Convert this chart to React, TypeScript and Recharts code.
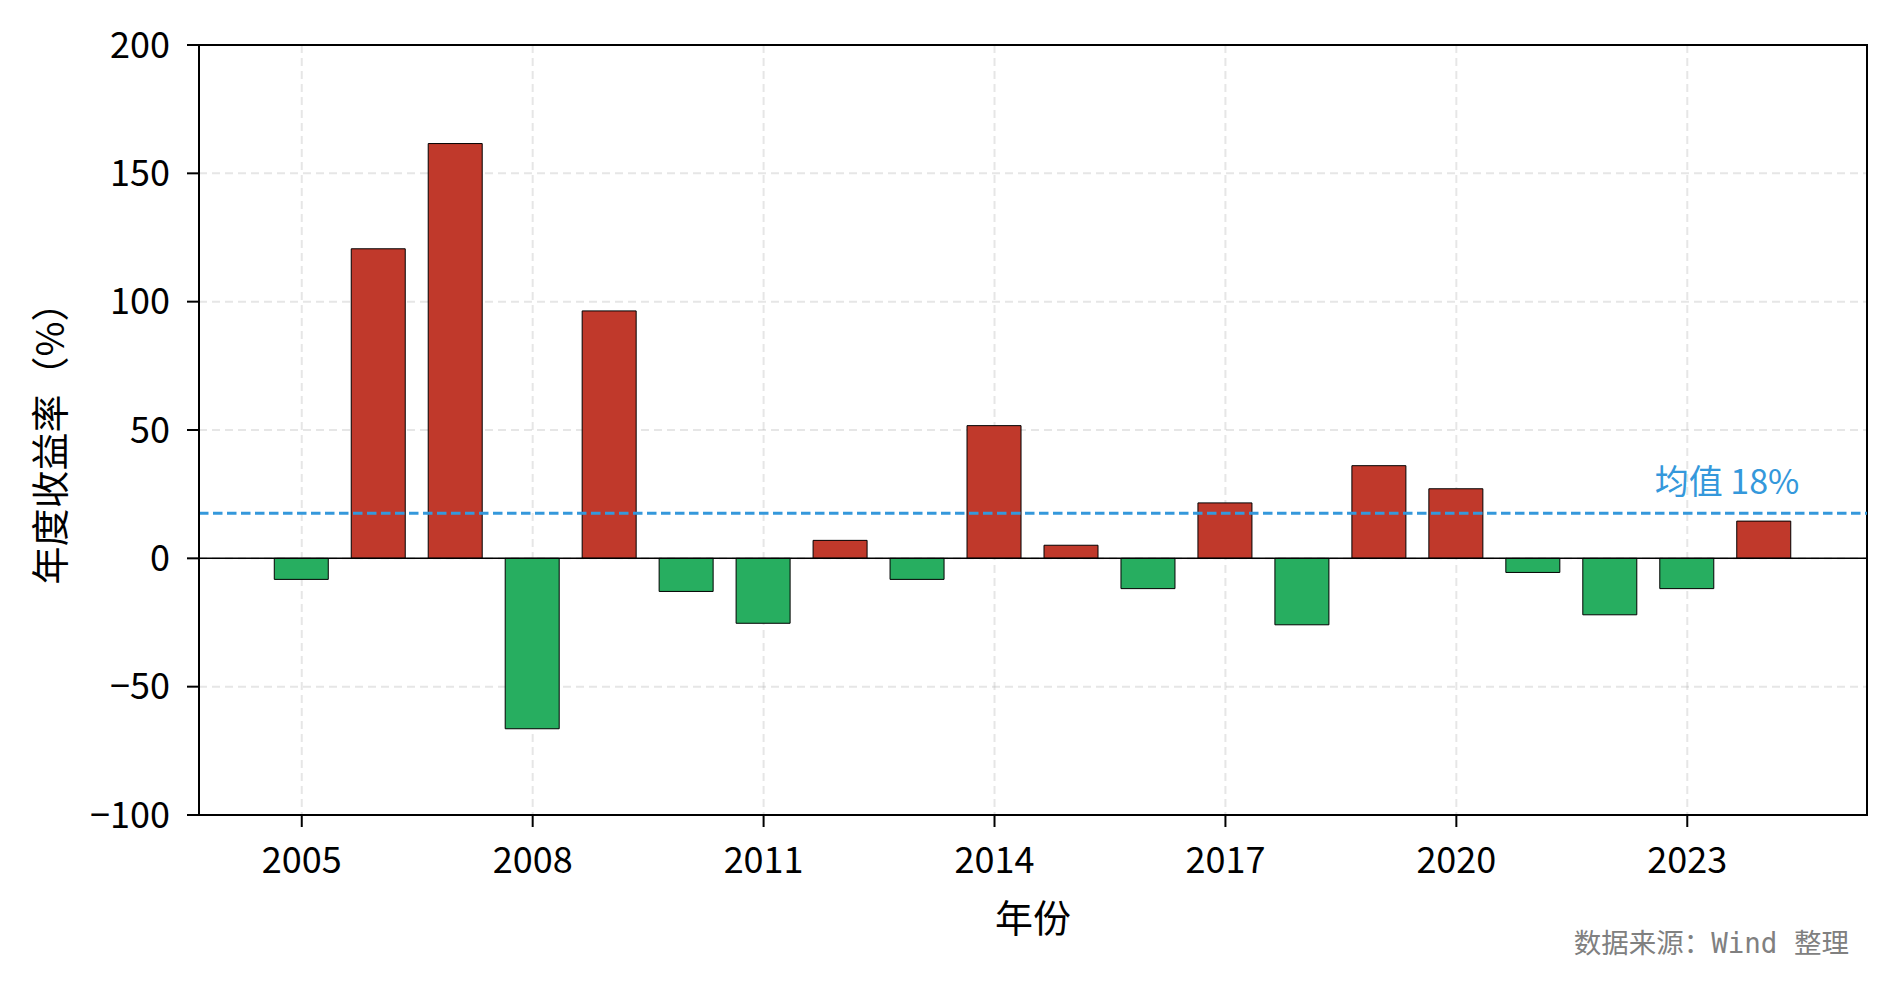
import React from "react";
import {
  Bar,
  BarChart,
  CartesianGrid,
  Cell,
  Label,
  ReferenceArea,
  ReferenceLine,
  XAxis,
  YAxis
} from "recharts";

const years = [
  2005, 2006, 2007, 2008, 2009, 2010, 2011, 2012, 2013, 2014,
  2015, 2016, 2017, 2018, 2019, 2020, 2021, 2022, 2023, 2024
];
const annualReturns = [
  -8.2, 120.6, 161.6, -66.4, 96.4, -12.9, -25.3, 7.0, -8.2, 51.7,
  5.1, -11.8, 21.6, -25.9, 36.1, 27.1, -5.5, -22.0, -11.8, 14.5
];
const meanReturn = 17.6;
const xTicks = [2005, 2008, 2011, 2014, 2017, 2020, 2023];
const yTicks = [-100, -50, 0, 50, 100, 150, 200];
const xDomain: [number, number] = [2003.665, 2025.335];
const yDomain: [number, number] = [-100, 200];

const data = years.map((year, i) => ({ year, value: annualReturns[i] }));

const RED = "#c0392b";
const GREEN = "#27ae60";
const BLUE = "#3498db";
const FONT = "'Noto Sans CJK SC', 'Noto Sans', sans-serif";

const minus = (v: number) => String(v).replace("-", "\u2212");

const YTitle = ({ viewBox }: any) => {
  const cx = 47;
  const cy = viewBox.y + viewBox.height / 2 + 4;
  return (
    <text
      x={cx}
      y={cy}
      transform={`rotate(-90, ${cx}, ${cy})`}
      textAnchor="middle"
      dominantBaseline="central"
      fontFamily={FONT}
      fontSize={38}
      fill="#000"
    >
      年度收益率（%）
    </text>
  );
};

const XTitle = ({ viewBox }: any) => (
  <g>
    <text
      x={viewBox.x + viewBox.width / 2}
      y={915}
      textAnchor="middle"
      dominantBaseline="central"
      fontFamily={FONT}
      fontSize={38}
      fill="#000"
    >
      年份
    </text>
    <text
      x={1849}
      y={943}
      textAnchor="end"
      dominantBaseline="central"
      fontFamily={"'DejaVu Sans Mono', 'Noto Sans CJK SC', monospace"}
      fontSize={27.5}
      fill="#808080"
    >
      数据来源：Wind 整理
    </text>
  </g>
);

const MeanLabel = ({ viewBox }: any) => (
  <text
    x={viewBox.x + viewBox.width - 140}
    y={viewBox.y - 34}
    textAnchor="middle"
    dominantBaseline="central"
    fontFamily={FONT}
    fontSize={34}
    fill={BLUE}
  >
    {`均值 ${Math.round(meanReturn)}%`}
  </text>
);

export default function App() {
  return (
    <div style={{ position: "absolute", left: 0, top: 0, width: 1895, height: 987, background: "#fff" }}>
      <BarChart
        width={1895}
        height={987}
        data={data}
        margin={{ top: 45, right: 28, bottom: 112, left: 99 }}
      >
        <XAxis
          type="number"
          dataKey="year"
          domain={xDomain}
          ticks={xTicks}
          allowDataOverflow
          height={60}
          tickSize={12}
          tickMargin={20}
          axisLine={{ stroke: "#000", strokeWidth: 2 }}
          tickLine={{ stroke: "#000", strokeWidth: 2 }}
          tick={{ fill: "#000", fontSize: 36, fontFamily: FONT }}
        >
          <Label content={XTitle} />
        </XAxis>
        <YAxis
          type="number"
          domain={yDomain}
          ticks={yTicks}
          allowDataOverflow
          width={100}
          tickSize={12}
          tickMargin={17}
          tickFormatter={minus}
          axisLine={{ stroke: "#000", strokeWidth: 2 }}
          tickLine={{ stroke: "#000", strokeWidth: 2 }}
          tick={{ fill: "#000", fontSize: 36, fontFamily: FONT }}
        >
          <Label content={YTitle} />
        </YAxis>
        <Bar dataKey="value" barSize={54} stroke="#000" strokeWidth={1} isAnimationActive={false}>
          {data.map((d) => (
            <Cell key={d.year} fill={d.value >= 0 ? RED : GREEN} />
          ))}
        </Bar>
        <CartesianGrid stroke="#b0b0b0" strokeOpacity={0.32} strokeWidth={2} strokeDasharray="8 5" />
        <ReferenceLine y={0} stroke="#000" strokeWidth={1.5} />
        <ReferenceLine
          y={meanReturn}
          stroke={BLUE}
          strokeWidth={3}
          strokeDasharray="9.5 4.5"
          label={<MeanLabel />}
        />
        <ReferenceArea
          x1={xDomain[0]}
          x2={xDomain[1]}
          y1={yDomain[0]}
          y2={yDomain[1]}
          fill="none"
          fillOpacity={0}
          stroke="#000"
          strokeWidth={2}
          ifOverflow="visible"
        />
      </BarChart>
    </div>
  );
}
